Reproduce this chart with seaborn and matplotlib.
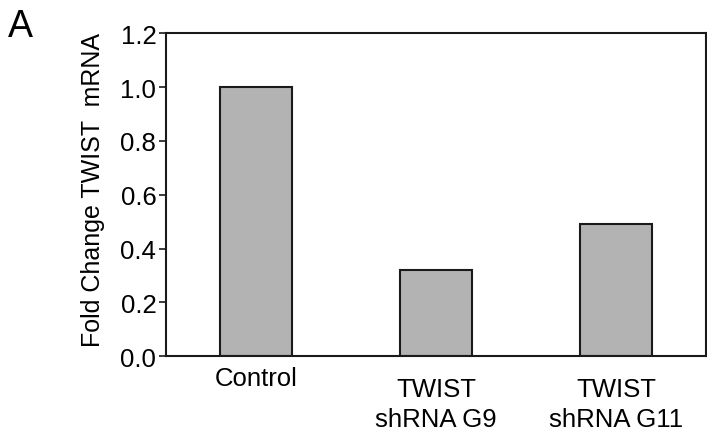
import matplotlib
matplotlib.use("Agg")
import matplotlib.pyplot as plt
import seaborn as sns
import pandas as pd

categories = ["Control", "TWIST\nshRNA G9", "TWIST\nshRNA G11"]
values = [1.0, 0.32, 0.49]
yticks = [0.0, 0.2, 0.4, 0.6, 0.8, 1.0, 1.2]
ylabel = "Fold Change TWIST  mRNA"
panel = "A"

sns.set_theme(style="white")
plt.rcParams["font.family"] = ["Liberation Sans", "DejaVu Sans"]
plt.rcParams["text.color"] = "black"
plt.rcParams["ytick.color"] = "black"
plt.rcParams["xtick.color"] = "black"

df = pd.DataFrame({"cat": categories, "val": values})

fig = plt.figure(figsize=(7.07, 4.39), dpi=100)
ax = fig.add_axes([166 / 707, 1 - 357.3 / 439, 540 / 707, 323 / 439])

sns.barplot(data=df, x="cat", y="val", ax=ax, color="#b3b3b3",
            saturation=1, width=0.4, edgecolor="#1a1a1a", linewidth=1.5)

ax.set_ylim(0, 1.2)
ax.set_xlim(-0.5, 2.5)
ax.set_yticks(yticks)
ax.set_yticklabels([f"{t:.1f}" for t in yticks], fontsize=18.5, color="black")
ax.tick_params(axis="y", left=True, direction="out", length=5, width=1.2,
               color="#1a1a1a", pad=2)
ax.tick_params(axis="x", bottom=False)
ax.set_xticks(range(len(categories)))
ax.set_xticklabels([])
ax.set_xlabel("")
ax.set_ylabel("")

for s in ax.spines.values():
    s.set_visible(True)
    s.set_color("#1a1a1a")
    s.set_linewidth(1.5)

for i, lab in enumerate(categories):
    ycen = -0.067 if "\n" not in lab else -0.147
    ax.text(i, ycen, lab, transform=ax.get_xaxis_transform(), ha="center",
            va="center", fontsize=18.5, linespacing=1.3, color="black")

fig.text(93 / 707, 1 - 190 / 439, ylabel, rotation=90, ha="center",
         va="center", fontsize=18, color="black")
fig.text(20 / 707, 1 - 27 / 439, panel, ha="center", va="center",
         fontsize=27, color="black")

fig.savefig("out.png", dpi=100)
